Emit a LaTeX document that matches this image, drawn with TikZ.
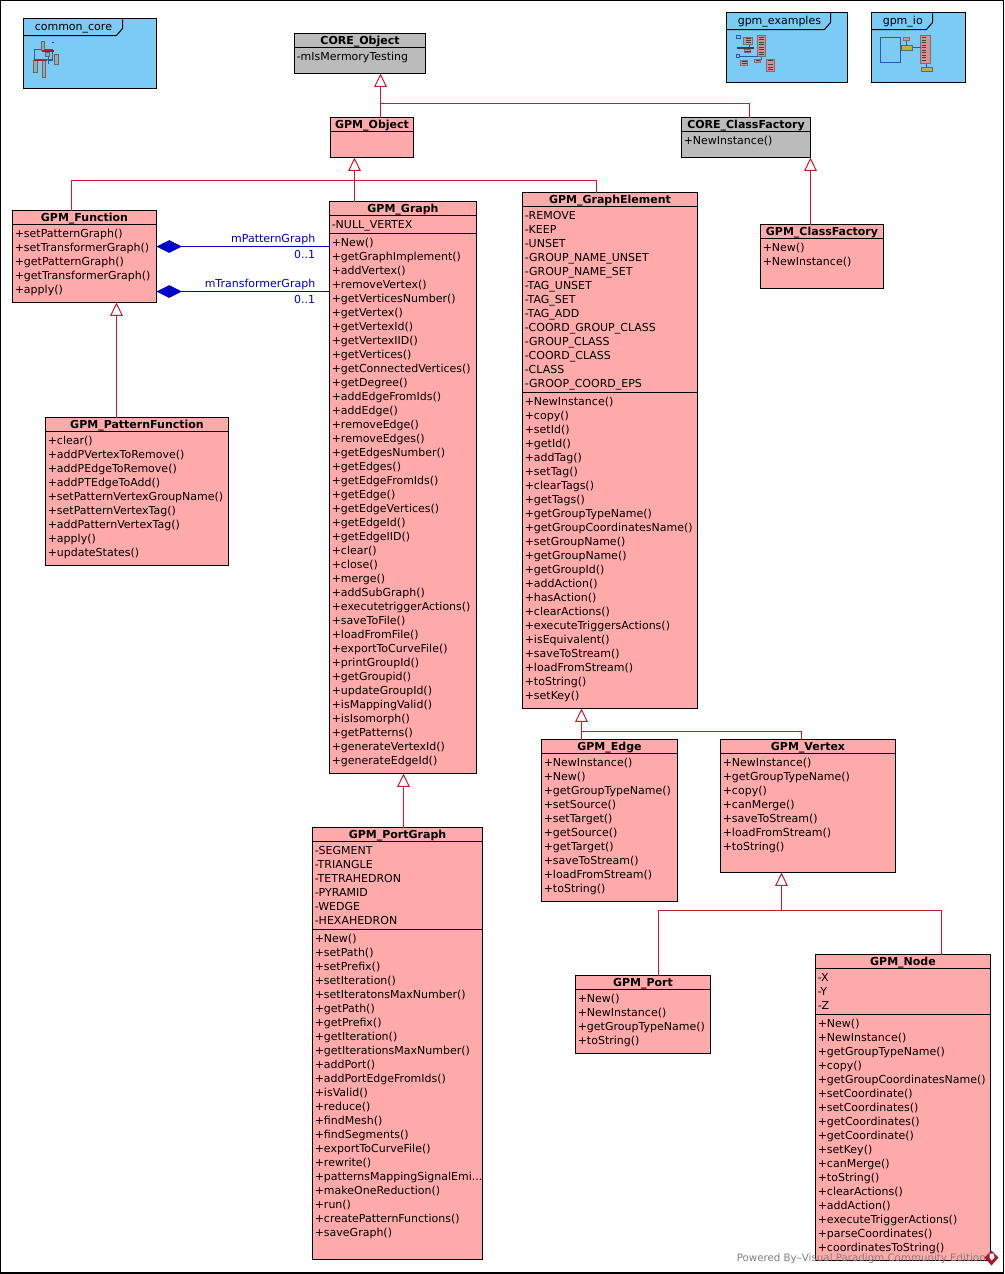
\documentclass[tikz,border=0pt]{standalone}
\usepackage{fontspec}
\setmainfont{DejaVu Sans}
\usetikzlibrary{arrows.meta}
\definecolor{umlred}{HTML}{CC1A2E}
\definecolor{umlblue}{HTML}{0000CC}
\definecolor{classpink}{HTML}{FFAAAA}
\definecolor{classgray}{HTML}{BBBBBB}
\definecolor{pkgblue}{HTML}{7ACCF5}
\tikzset{
  x=0.75pt, y=-0.75pt,
  boxline/.style={draw=black, line width=0.75pt},
  classbody/.style={boxline, anchor=north west, inner sep=0pt, outer sep=0pt},
  classtitle/.style={anchor=base, inner sep=0pt, font=\fontsize{8.25}{10.5}\selectfont\bfseries},
  members/.style={anchor=north west, inner sep=0pt, align=left, font=\fontsize{8.25}{10.5}\selectfont},
  gen/.style={draw=umlred, line width=0.75pt, -{Triangle[open, fill=white, length=10pt, width=9.5pt, line width=0.75pt]}},
  genline/.style={draw=umlred, line width=0.75pt},
  comp/.style={draw=umlblue, line width=0.75pt, {Diamond[length=19pt, width=9.5pt, fill=umlblue]}-},
  assoclabel/.style={anchor=base east, inner sep=0pt, text=umlblue, font=\fontsize{8.25}{10}\selectfont},
  pkgbody/.style={boxline, fill=pkgblue},
  pkgtitle/.style={anchor=base west, inner sep=0pt, font=\fontsize{8.25}{10}\selectfont},
  thumbpink/.style={fill=classpink!85!black, draw=black!55, line width=0.2pt},
  thumbgray/.style={fill=black!35, draw=black!60, line width=0.2pt},
  thumbline/.style={draw=black!45!blue!60!pkgblue, line width=0.3pt},
  thumbtext/.style={draw=black!75, line width=0.3pt},
  thumbyellow/.style={fill=yellow!70!black, draw=black!60, line width=0.2pt},
}
% id, left, top, right, bottom, fill, title
\newcommand{\classbox}[7]{%
  \pgfmathsetmacro{\boxw}{(#4-#2)*0.75}%
  \pgfmathsetmacro{\boxh}{(#5-#3)*0.75}%
  \node[classbody, fill=#6, minimum width=\boxw pt, minimum height=\boxh pt] (#1) at (#2,#3) {};
  \node[classtitle] (#1title) at ({(#2+#4)/2},#3+11) {#7};
  \draw[boxline] (#2,#3+14) -- (#4,#3+14);
}
% name, box left, y of first text centre, lines
\newcommand{\memberlist}[4]{\node[members] (#1) at (#2+2,#3-6) {\strut#4};}
% owner box, y of the rule
\newcommand{\divider}[2]{\draw[boxline] (#1.west |- 0,#2) -- (#1.east |- 0,#2);}

\begin{document}
\begin{tikzpicture}
\useasboundingbox (0,0) rectangle (1004,1274);
\fill[white] (0,0) rectangle (1004,1274);
\draw[black, line width=0.9pt] (0.5,0.5) rectangle (1003.5,1273);

\begin{scope}[shift={(0.5,0.5)}]
% packages
\draw[pkgbody] (23,18) rectangle (156,88);
\draw[boxline] (23,35) -- (116,35) -- (122,28) -- (122,18);
\node[pkgtitle] (pkgcore) at (34,30) {common\_core};
\draw[pkgbody] (726,12) rectangle (847,82);
\draw[boxline] (726,29) -- (824,29) -- (830,22) -- (830,12);
\node[pkgtitle] (pkgexamples) at (737,24) {gpm\_examples};
\draw[pkgbody] (871,12) rectangle (965,82);
\draw[boxline] (871,29) -- (926,29) -- (932,22) -- (932,12);
\node[pkgtitle] (pkgio) at (882,24) {gpm\_io};

% miniature of common_core
\draw[thumbline] (34,49) rectangle (52,59);
\draw[thumbgray] (41,41) rectangle (44,50);
\draw[thumbgray] (33,60) rectangle (37,72);
\draw[thumbgray] (42,60) rectangle (45,77);
\draw[thumbgray] (54,54) rectangle (58,64);
\draw[thumbgray] (45,52) rectangle (49,56);
\fill[umlred!85!black] (41,49) rectangle (53,51);
\fill[umlred!85!black] (33,59) rectangle (46,60);
\draw[thumbline] (47,60) -- (52,60) (48,56) -- (48,63);
\draw[thumbtext] (51,42) -- (53,42);
% miniature of gpm_examples
\draw[thumbline] (736,35) rectangle (740,38);
\draw[thumbline] (736,54) rectangle (739,57);
\draw[thumbpink] (743,37) rectangle (752,44);
\draw[thumbpink] (757,35) rectangle (765,56);
\draw[thumbpink] (740,60) rectangle (747,65);
\draw[thumbpink] (744,49) rectangle (750,52);
\draw[thumbpink] (754,59) rectangle (760,62);
\draw[thumbpink] (766,59) rectangle (774,71);
\draw[thumbline] (739,56) -- (757,56) (749,44) -- (749,47) (761,56) -- (761,59);
\foreach \ty in {38,40,42} \draw[thumbtext] (745,\ty) -- (750,\ty);
\foreach \ty in {36.5,39,41.5,44,46.5,49,51.5,54} \draw[thumbtext] (758,\ty) -- (763,\ty);
\foreach \ty in {61,63} \draw[thumbtext] (741,\ty) -- (746,\ty);
\foreach \ty in {60,64,67,69} \draw[thumbtext] (767,\ty) -- (772,\ty);
\draw[thumbtext, line width=0.8pt] (736,47.5) -- (753,47.5) (755,60) -- (759,60);
\draw[thumbtext, line width=0.5pt] (744,50.5) -- (750,50.5);
% miniature of gpm_io
\draw[thumbline] (880,37) rectangle (900,62);
\draw[thumbpink] (920,35) rectangle (930,63);
\draw[thumbpink] (903,37) rectangle (909,40);
\draw[thumbyellow] (901,45) rectangle (912,50);
\draw[thumbyellow] (921,67) rectangle (932,71);
\draw[thumbline] (912,47) -- (920,47) (906,40) -- (906,45) (926,63) -- (926,67);
\foreach \ty in {37,39.5,42,44.5,47,49.5,52,54.5,57,59.5} \draw[thumbtext] (921,\ty) -- (925,\ty);

% classes
\classbox{coreobject}{294}{33}{425}{73}{classgray}{CORE\_Object}
\memberlist{coreobjectattr}{294}{56}{-mIsMermoryTesting}

\classbox{gpmobject}{330}{117}{413}{157}{classpink}{GPM\_Object}

\classbox{corefactory}{681}{117}{810}{157}{classgray}{CORE\_ClassFactory}
\memberlist{corefactoryops}{681}{140}{+NewInstance()}

\classbox{gpmfactory}{760}{224}{883}{288}{classpink}{GPM\_ClassFactory}
\memberlist{gpmfactoryops}{760}{247}{+New()\\+NewInstance()}

\classbox{function}{12}{210}{156}{302}{classpink}{GPM\_Function}
\memberlist{functionops}{12}{233}{+setPatternGraph()\\+setTransformerGraph()\\+getPatternGraph()\\+getTransformerGraph()\\+apply()}

\classbox{patternfn}{45}{417}{228}{565}{classpink}{GPM\_PatternFunction}
\memberlist{patternfnops}{45}{440}{+clear()\\+addPVertexToRemove()\\+addPEdgeToRemove()\\+addPTEdgeToAdd()\\+setPatternVertexGroupName()\\+setPatternVertexTag()\\+addPatternVertexTag()\\+apply()\\+updateStates()}

\classbox{graph}{329}{201}{476}{773}{classpink}{GPM\_Graph}
\memberlist{graphattr}{329}{224}{-NULL\_VERTEX}
\divider{graph}{233}
\memberlist{graphops}{329}{242}{+New()\\+getGraphImplement()\\+addVertex()\\+removeVertex()\\+getVerticesNumber()\\+getVertex()\\+getVertexId()\\+getVertexIID()\\+getVertices()\\+getConnectedVertices()\\+getDegree()\\+addEdgeFromIds()\\+addEdge()\\+removeEdge()\\+removeEdges()\\+getEdgesNumber()\\+getEdges()\\+getEdgeFromIds()\\+getEdge()\\+getEdgeVertices()\\+getEdgeId()\\+getEdgeIID()\\+clear()\\+close()\\+merge()\\+addSubGraph()\\+executetriggerActions()\\+saveToFile()\\+loadFromFile()\\+exportToCurveFile()\\+printGroupId()\\+getGroupid()\\+updateGroupId()\\+isMappingValid()\\+isIsomorph()\\+getPatterns()\\+generateVertexId()\\+generateEdgeId()}

\classbox{element}{522}{192}{697}{708}{classpink}{GPM\_GraphElement}
\memberlist{elementattr}{522}{215}{-REMOVE\\-KEEP\\-UNSET\\-GROUP\_NAME\_UNSET\\-GROUP\_NAME\_SET\\-TAG\_UNSET\\-TAG\_SET\\-TAG\_ADD\\-COORD\_GROUP\_CLASS\\-GROUP\_CLASS\\-COORD\_CLASS\\-CLASS\\-GROOP\_COORD\_EPS}
\divider{element}{392}
\memberlist{elementops}{522}{401}{+NewInstance()\\+copy()\\+setId()\\+getId()\\+addTag()\\+setTag()\\+clearTags()\\+getTags()\\+getGroupTypeName()\\+getGroupCoordinatesName()\\+setGroupName()\\+getGroupName()\\+getGroupId()\\+addAction()\\+hasAction()\\+clearActions()\\+executeTriggersActions()\\+isEquivalent()\\+saveToStream()\\+loadFromStream()\\+toString()\\+setKey()}

\classbox{edge}{541}{739}{677}{901}{classpink}{GPM\_Edge}
\memberlist{edgeops}{541}{762}{+NewInstance()\\+New()\\+getGroupTypeName()\\+setSource()\\+setTarget()\\+getSource()\\+getTarget()\\+saveToStream()\\+loadFromStream()\\+toString()}

\classbox{vertex}{720}{739}{895}{872}{classpink}{GPM\_Vertex}
\memberlist{vertexops}{720}{762}{+NewInstance()\\+getGroupTypeName()\\+copy()\\+canMerge()\\+saveToStream()\\+loadFromStream()\\+toString()}

\classbox{portgraph}{312}{827}{482}{1259}{classpink}{GPM\_PortGraph}
\memberlist{portgraphattr}{312}{850}{-SEGMENT\\-TRIANGLE\\-TETRAHEDRON\\-PYRAMID\\-WEDGE\\-HEXAHEDRON}
\divider{portgraph}{929}
\memberlist{portgraphops}{312}{938}{+New()\\+setPath()\\+setPrefix()\\+setIteration()\\+setIteratonsMaxNumber()\\+getPath()\\+getPrefix()\\+getIteration()\\+getIterationsMaxNumber()\\+addPort()\\+addPortEdgeFromIds()\\+isValid()\\+reduce()\\+findMesh()\\+findSegments()\\+exportToCurveFile()\\+rewrite()\\+patternsMappingSignalEmi...\\+makeOneReduction()\\+run()\\+createPatternFunctions()\\+saveGraph()}

\classbox{port}{575}{975}{710}{1053}{classpink}{GPM\_Port}
\memberlist{portops}{575}{998}{+New()\\+NewInstance()\\+getGroupTypeName()\\+toString()}

\classbox{gpmnode}{815}{954}{990}{1260}{classpink}{GPM\_Node}
\memberlist{gpmnodeattr}{815}{977}{-X\\-Y\\-Z}
\divider{gpmnode}{1014}
\memberlist{gpmnodeops}{815}{1023}{+New()\\+NewInstance()\\+getGroupTypeName()\\+copy()\\+getGroupCoordinatesName()\\+setCoordinate()\\+setCoordinates()\\+getCoordinates()\\+getCoordinate()\\+setKey()\\+canMerge()\\+toString()\\+clearActions()\\+addAction()\\+executeTriggerActions()\\+parseCoordinates()\\+coordinatesToString()}

% generalisation trunks
\coordinate (objtrunk) at (380,103);
\coordinate (factorydrop) at (749,103);
\coordinate (graphtrunk) at (354,180);
\coordinate (functiondrop) at (71,180);
\coordinate (elementdrop) at (596,180);
\coordinate (factorytrunk) at (810,190);
\coordinate (patterntrunk) at (116,360);
\coordinate (portgraphtrunk) at (403,800);
\coordinate (elementtrunk) at (581,731);
\coordinate (vertexdrop) at (801,731);
\coordinate (vertextrunk) at (781,910);
\coordinate (portdrop) at (658,910);
\coordinate (nodedrop) at (941,910);

\draw[gen] (gpmobject.north -| objtrunk) -- (coreobject.south -| objtrunk);
\draw[genline] (corefactory.north -| factorydrop) -- (factorydrop) -- (objtrunk);
\draw[gen] (graph.north -| graphtrunk) -- (gpmobject.south -| graphtrunk);
\draw[genline] (function.north -| functiondrop) -- (functiondrop) -- (elementdrop) -- (element.north -| elementdrop);
\draw[gen] (gpmfactory.north -| factorytrunk) -- (corefactory.south -| factorytrunk);
\draw[gen] (patternfn.north -| patterntrunk) -- (function.south -| patterntrunk);
\draw[gen] (portgraph.north -| portgraphtrunk) -- (graph.south -| portgraphtrunk);
\draw[gen] (edge.north -| elementtrunk) -- (element.south -| elementtrunk);
\draw[genline] (vertex.north -| vertexdrop) -- (vertexdrop) -- (elementtrunk);
\draw[gen] (vertextrunk) -- (vertex.south -| vertextrunk);
\draw[genline] (port.north -| portdrop) -- (portdrop) -- (nodedrop) -- (gpmnode.north -| nodedrop);

% compositions
\coordinate (patternlevel) at (200,246);
\coordinate (transformerlevel) at (200,291);
\draw[comp] (function.east |- patternlevel) -- (graph.west |- patternlevel);
\draw[comp] (function.east |- transformerlevel) -- (graph.west |- transformerlevel);
\node[assoclabel] (patternrole) at (315,242) {mPatternGraph};
\node[assoclabel] (patternmult) at (315,258) {0..1};
\node[assoclabel] (transformerrole) at (315,287) {mTransformerGraph};
\node[assoclabel] (transformermult) at (315,303) {0..1};

% edition stamp
\node[anchor=base west, inner sep=0pt, text=black!50, font=\fontsize{7.7}{10}\selectfont] (stamp) at (736,1261) {Powered By--Visual Paradigm Community Edition};
\fill[umlred!85!black] (991,1250) -- (998,1257) -- (991,1265) -- (984,1257) -- cycle;
\fill[white] (989,1253) -- (993,1253) -- (994,1257) -- (991,1260) -- (989,1257) -- cycle;
\end{scope}
\end{tikzpicture}
\end{document}
